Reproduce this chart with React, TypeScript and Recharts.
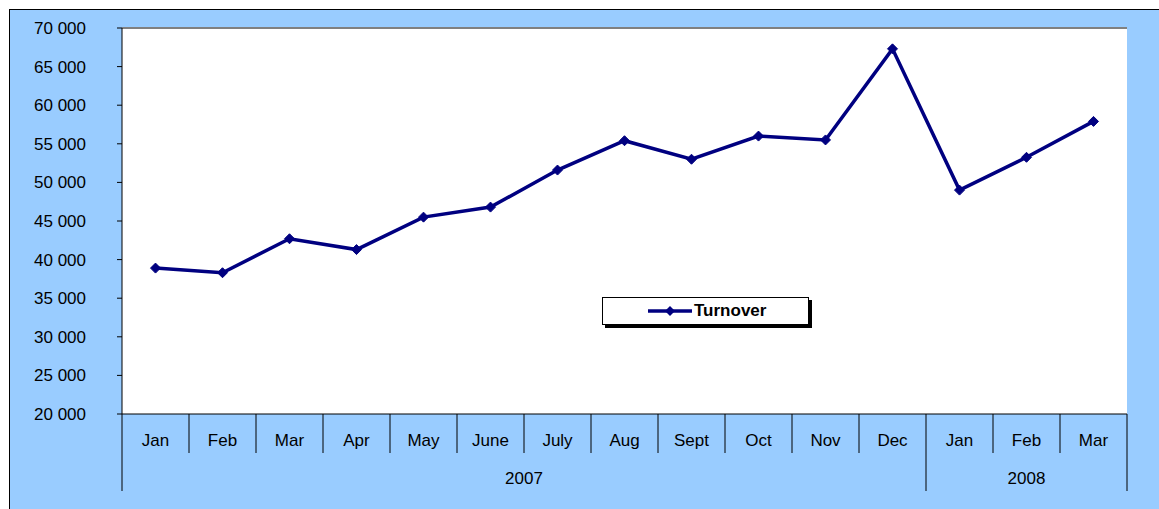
import { LineChart, Line, XAxis, YAxis, CartesianGrid, Legend, ReferenceLine } from "recharts";

// monthly turnover, Jan 2007 - Mar 2008
const months = ["Jan", "Feb", "Mar", "Apr", "May", "June", "July", "Aug", "Sept", "Oct", "Nov", "Dec", "Jan", "Feb", "Mar"];
const years = ["2007", "2008"];
const monthsPerYear = [12, 3];
const turnover = [38900, 38300, 42700, 41300, 45500, 46800, 51600, 55400, 53000, 56000, 55500, 67300, 49000, 53250, 57900];
const yTicks = [20000, 25000, 30000, 35000, 40000, 45000, 50000, 55000, 60000, 65000, 70000];

const FONT = "'Liberation Sans', Arial, sans-serif";
const NAVY = "#000080";

// year of each month + whether it opens/closes its year group
const yearOf: number[] = [];
monthsPerYear.forEach((n, yi) => {
  for (let k = 0; k < n; k++) yearOf.push(yi);
});

const data = months.map((m, i) => ({
  key: `${years[yearOf[i]]}-${i}`,
  month: m,
  year: years[yearOf[i]],
  turnover: turnover[i],
}));

const fmtThousands = (v: number) => {
  const th = Math.floor(v / 1000);
  const rest = String(v % 1000).padStart(3, "0");
  return `${th} ${rest}`;
};

function MonthTick(props: any) {
  const { x, y, index, width, visibleTicksCount } = props;
  const half = width / visibleTicksCount / 2;
  const yi = yearOf[index];
  const firstOfYear = index === 0 || yearOf[index - 1] !== yi;
  const lastOfYear = index === yearOf.length - 1 || yearOf[index + 1] !== yi;
  return (
    <g>
      <text x={x} y={y + 26} textAnchor="middle" dominantBaseline="central" fontSize={17} fontFamily={FONT} fill="#000">
        {months[index]}
      </text>
      <line x1={x + half} x2={x + half} y1={y} y2={lastOfYear ? y + 77 : y + 39} stroke="#000" strokeWidth={1} />
      {index === 0 && <line x1={x - half} x2={x - half} y1={y} y2={y + 77} stroke="#000" strokeWidth={1} />}
      {firstOfYear && (
        <text
          x={x - half + monthsPerYear[yi] * half}
          y={y + 64}
          textAnchor="middle"
          dominantBaseline="central"
          fontSize={17}
          fontFamily={FONT}
          fill="#000"
        >
          {years[yi]}
        </text>
      )}
    </g>
  );
}

function Diamond(props: any) {
  const { cx, cy } = props;
  if (cx == null || cy == null) return null;
  const s = 5;
  return <polygon points={`${cx},${cy - s} ${cx + s},${cy} ${cx},${cy + s} ${cx - s},${cy}`} fill={NAVY} stroke={NAVY} strokeWidth={1} />;
}

function LegendBox(props: any) {
  const item = props.payload && props.payload[0];
  return (
    <div
      style={{
        width: 205,
        height: 26,
        background: "#fff",
        border: "1px solid #000",
        boxShadow: "3px 3px 0 #000",
        display: "flex",
        alignItems: "center",
        fontFamily: FONT,
      }}
    >
      <svg width={90} height={12} style={{ display: "block" }}>
        <line x1={45} x2={89} y1={6} y2={6} stroke={NAVY} strokeWidth={3.5} />
        <polygon points="67,1 72,6 67,11 62,6" fill={NAVY} />
      </svg>
      <span style={{ fontWeight: "bold", fontSize: 17, color: "#000", marginLeft: 1 }}>{item ? item.value : "Turnover"}</span>
    </div>
  );
}

export default function App() {
  return (
    <div style={{ position: "absolute", left: 0, top: 0, width: 1159, height: 509, background: "#fff", overflow: "hidden" }}>
      <div
        style={{
          position: "absolute",
          left: 9,
          top: 9,
          width: 1160,
          height: 510,
          background: "#99CCFF",
          borderTop: "1px solid #000",
          borderLeft: "1px solid #000",
        }}
      />
      <div style={{ position: "absolute", left: 0, top: 0 }}>
        <LineChart width={1159} height={509} data={data} margin={{ top: 28, right: 32, bottom: 0, left: 0 }} style={{ fontFamily: FONT }}>
          <CartesianGrid horizontal={false} vertical={false} fill="#fff" />
          <XAxis
            dataKey="key"
            scale="band"
            height={95}
            interval={0}
            tickSize={0}
            tickMargin={0}
            tickLine={false}
            axisLine={{ stroke: "#000", strokeWidth: 1 }}
            tick={<MonthTick />}
          />
          <YAxis
            width={122}
            domain={[20000, 70000]}
            ticks={yTicks}
            interval={0}
            tickSize={5}
            tickMargin={31}
            tickFormatter={fmtThousands}
            axisLine={{ stroke: "#000", strokeWidth: 1 }}
            tickLine={{ stroke: "#000", strokeWidth: 1 }}
            tick={{ fill: "#000", fontSize: 17, fontFamily: FONT }}
          />
          <YAxis yAxisId="right" orientation="right" width={0} domain={[0, 1]} type="number" tick={false} tickLine={false} axisLine={{ stroke: "#808080", strokeWidth: 2 }} />
          <ReferenceLine y={70000} stroke="#808080" strokeWidth={2} />
          <Legend
            layout="horizontal"
            verticalAlign="middle"
            align="center"
            wrapperStyle={{ left: 602, top: 297, width: 210 }}
            content={<LegendBox />}
          />
          <Line
            type="linear"
            dataKey="turnover"
            name="Turnover"
            stroke={NAVY}
            strokeWidth={3.5}
            dot={<Diamond />}
            activeDot={false}
            isAnimationActive={false}
          />
        </LineChart>
      </div>
    </div>
  );
}
